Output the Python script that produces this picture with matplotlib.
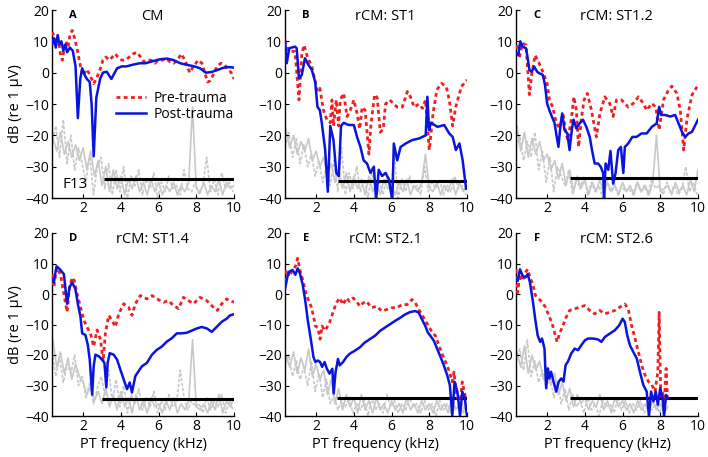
import numpy as np
import matplotlib
matplotlib.use("Agg")
from matplotlib import pyplot as plt
from matplotlib.lines import Line2D

plt.rcParams["font.family"] = ["Open Sans", "DejaVu Sans"]
plt.rcParams["axes.unicode_minus"] = True

RED = "#ee2020"
BLUE = "#0a14dc"
GRAY = "#c8c8c8"

# panel labels / titles
LETTERS = ["A", "B", "C", "D", "E", "F"]
TITLES = ["CM", "rCM: ST1", "rCM: ST1.2", "rCM: ST1.4", "rCM: ST2.1", "rCM: ST2.6"]

# pre-trauma (red dotted): (kHz, dB)
PRE_A_F = [0.36, 0.5, 0.7, 0.8, 0.9, 1.0, 1.1, 1.2, 1.3, 1.42, 1.55, 1.7, 1.86, 2.0, 2.15, 2.3, 2.45, 2.56, 2.7, 2.9, 3.05, 3.2, 3.4, 3.55, 3.7, 3.85, 4.05, 4.25, 4.45, 4.65, 4.85, 5.05, 5.2, 5.4, 5.6, 5.8, 6.0, 6.2, 6.4, 6.6, 6.8, 7.0, 7.2, 7.4, 7.65, 7.85, 8.1, 8.3, 8.45, 8.6, 8.75, 8.95, 9.1, 9.3, 9.5, 9.7, 9.85, 10.0]
PRE_A_DB = [13, 11, 10, 6, 4, 8, 10, 8, 12, 13.5, 11, 7, 2, -1, 1, 0, -2, -3.5, -2, 1, 4, 5, 4, 5, 6, 5, 4, 4, 5, 6, 6.5, 5, 3.5, 4, 4, 3, 4, 4, 4.5, 3.5, 3, 4, 6, 4, 0, 2, 4, 3, 0, -3, -2.5, 0, 2, 3, 2.5, 1, 0, -2]
PRE_B_F = [0.35, 0.52, 0.88, 1.09, 1.24, 1.36, 1.54, 1.77, 2.07, 2.2, 2.39, 2.57, 2.75, 2.84, 2.92, 3.07, 3.19, 3.28, 3.46, 3.64, 3.81, 4.0, 4.17, 4.31, 4.44, 4.6, 4.8, 4.9, 5.1, 5.24, 5.4, 5.56, 5.68, 5.9, 6.12, 6.3, 6.57, 6.84, 7.0, 7.2, 7.45, 7.64, 7.8, 8.0, 8.2, 8.4, 8.65, 8.9, 9.06, 9.24, 9.4, 9.7, 10.0]
PRE_B_DB = [10.4, 7, 6.7, -8.7, 6, 8.8, 5, 2, -6, -5, -12, -15, -16, -8.7, -17, -8.7, -17, -8.7, -6.6, -14, -12, -8.7, -13, -18, -11, -12, -26, -17, -7, -8, -19, -18, -10, -8.7, -10, -11, -11, -6, -7.7, -11, -10, -11.4, -8.7, -24.7, -13, -5.5, -3.4, -4.5, -8.7, -17, -11, -4.5, -2.3]
PRE_C_F = [0.4, 0.52, 0.7, 0.88, 1.06, 1.2, 1.36, 1.54, 1.77, 2.0, 2.12, 2.3, 2.48, 2.66, 2.84, 3.0, 3.1, 3.28, 3.42, 3.55, 3.67, 3.81, 3.96, 4.13, 4.35, 4.61, 4.8, 5.06, 5.32, 5.5, 5.68, 5.95, 6.12, 6.3, 6.57, 6.84, 7.1, 7.28, 7.55, 7.76, 7.94, 8.17, 8.44, 8.61, 8.88, 9.06, 9.24, 9.41, 9.68, 9.95]
PRE_C_DB = [8.8, 4.6, 9.4, 8.8, -7, 0, 5.6, 3.5, 0.3, -3.4, -8.7, -11, -16, -17.8, -13, -19.4, -21.5, -15, -7.7, -12, -23.7, -15, -8.7, -6.6, -12, -20.5, -13, -7.7, -9.8, -14, -8.7, -8.7, -9.8, -11, -9.8, -7.7, -9.8, -12, -9.8, -11, -18.3, -8.7, -5.5, -4.3, -6.6, -12, -24.7, -15, -7.1, -4.5]
PRE_D_F = [0.36, 0.45, 0.59, 0.8, 0.98, 1.15, 1.28, 1.42, 1.54, 1.68, 1.86, 2.04, 2.2, 2.39, 2.56, 2.74, 2.92, 3.06, 3.18, 3.36, 3.53, 3.71, 3.89, 4.15, 4.41, 4.59, 4.77, 5.03, 5.38, 5.65, 5.91, 6.26, 6.53, 6.79, 7.06, 7.32, 7.59, 7.85, 8.2, 8.56, 8.9, 9.12, 9.35, 9.61, 9.79, 10.0]
PRE_D_DB = [6.5, 2.2, 8.6, 6.5, 0, -5.9, 2.2, 5.4, 4.3, 0, -4.3, -8.6, -10.8, -12.9, -17.2, -11.8, -15, -22, -12.9, -7, -8.6, -10.8, -6.5, -3.2, -4.3, -7, -3.2, -0.5, -1.6, -0.5, -1.6, -2.7, -2.2, -3.8, -4.8, -1.1, -2.2, -3.2, -1.1, -2.2, -4.3, -5.4, -3.2, -1.6, -2.2, -2.7]
PRE_E_F = [0.36, 0.43, 0.57, 0.75, 0.9, 1.02, 1.14, 1.29, 1.43, 1.55, 1.73, 1.86, 1.96, 2.09, 2.21, 2.32, 2.45, 2.57, 2.71, 2.89, 3.07, 3.25, 3.43, 3.6, 3.78, 3.96, 4.14, 4.32, 4.5, 4.67, 4.94, 5.21, 5.48, 5.74, 6.01, 6.28, 6.55, 6.81, 7.08, 7.26, 7.44, 7.61, 7.79, 7.97, 8.15, 8.33, 8.51, 8.68, 8.86, 9.04, 9.22, 9.31, 9.45, 9.63, 9.75, 9.93]
PRE_E_DB = [4.1, 7.9, 5.7, 7.9, 9, 11.7, 7.9, 4.6, 0.9, -1.3, -4, -7.2, -10.5, -11, -14.8, -10.5, -12, -11, -9.4, -6.1, -2.9, -1.3, -3.5, -1.3, -2.4, -1.3, -2.4, -4, -2.9, -2.4, -4.5, -4, -5.6, -5.1, -4.5, -4.5, -3.5, -3.5, -1.8, -2.9, -5.1, -6.7, -8.8, -10.5, -12.6, -13.7, -16.9, -19.6, -22.3, -25, -28.8, -25.6, -33.1, -36.4, -28.8, -34.2]
PRE_F_F = [0.35, 0.44, 0.56, 0.7, 0.84, 0.97, 1.09, 1.24, 1.38, 1.56, 1.73, 1.91, 2.09, 2.27, 2.39, 2.53, 2.66, 2.84, 3.01, 3.19, 3.46, 3.72, 4.0, 4.26, 4.52, 4.79, 5.06, 5.32, 5.59, 5.86, 6.12, 6.3, 6.48, 6.66, 6.84, 7.01, 7.19, 7.37, 7.55, 7.72, 7.87, 7.94, 8.03, 8.13, 8.2, 8.31, 8.38]
PRE_F_DB = [8.1, 0.5, 6.5, 4.3, 7, 8.1, 5.4, 3.3, -0.5, -1.6, -2.7, -4.3, -7, -9.8, -12.5, -15.7, -13, -10.3, -7.6, -5.4, -4.9, -4.3, -3.8, -5.4, -6.5, -5.4, -6.5, -6, -5.4, -4.3, -3.3, -4.9, -10.3, -14.6, -19, -23.3, -26.6, -28.7, -29.8, -32, -25.5, -6, -34.2, -32, -36.9, -24.4, -34.2]

# post-trauma (blue solid)
POST_A_F = [0.36, 0.45, 0.55, 0.65, 0.75, 0.85, 0.95, 1.06, 1.15, 1.3, 1.45, 1.6, 1.72, 1.85, 1.95, 2.1, 2.2, 2.35, 2.45, 2.56, 2.7, 2.9, 3.05, 3.25, 3.5, 3.8, 4.05, 4.3, 4.6, 5.0, 5.3, 5.6, 5.9, 6.1, 6.45, 6.8, 7.15, 7.5, 7.9, 8.2, 8.5, 8.8, 9.1, 9.4, 9.7, 10.0]
POST_A_DB = [9, 11, 8, 12, 9, 10, 7, 9, 6.5, 8, 7, 2, -14.5, -2, 1.4, -1, -2, -3, -10, -26.7, -8, -2, 0, 0.3, -2, 1.4, 2, 2, 2.5, 3, 3, 3.5, 4, 4.3, 4.5, 4, 3, 2.5, 2, 1.4, 0, 0.2, 0.8, 1.5, 1.8, 1.6]
POST_B_F = [0.35, 0.44, 0.58, 0.88, 0.97, 1.09, 1.24, 1.41, 1.59, 1.77, 1.95, 2.07, 2.2, 2.3, 2.48, 2.62, 2.75, 2.92, 3.07, 3.2, 3.32, 3.46, 3.72, 4.0, 4.17, 4.35, 4.52, 4.7, 4.88, 5.06, 5.18, 5.32, 5.5, 5.68, 5.86, 6.04, 6.12, 6.3, 6.48, 6.75, 7.1, 7.46, 7.81, 7.9, 7.99, 8.08, 8.44, 8.79, 9.06, 9.24, 9.41, 9.6, 9.77, 9.95]
POST_B_DB = [10.4, 3, 7.8, 8.3, 7.8, -1.8, -0.7, 4.6, 2.5, 0.9, -2.9, -10.9, -12, -16, -24.7, -38, -17, -21.5, -32, -33, -17, -16, -16.7, -16.7, -20.5, -23.7, -28, -29, -32, -30, -40.7, -31, -33, -32, -34, -41, -22.6, -28, -23.7, -22.6, -21.5, -21, -20, -7.7, -18.3, -16, -17.3, -16.7, -19.4, -20.5, -24.7, -22.6, -28, -37]
POST_C_F = [0.4, 0.47, 0.58, 0.7, 0.88, 0.97, 1.06, 1.18, 1.32, 1.47, 1.59, 1.77, 1.89, 2.0, 2.12, 2.25, 2.39, 2.48, 2.6, 2.71, 2.8, 2.92, 3.07, 3.19, 3.32, 3.4, 3.55, 3.72, 3.9, 4.08, 4.26, 4.38, 4.52, 4.7, 4.84, 4.97, 5.02, 5.1, 5.24, 5.36, 5.5, 5.63, 5.77, 5.91, 6.04, 6.12, 6.3, 6.52, 6.75, 7.0, 7.28, 7.55, 7.81, 7.94, 8.04, 8.26, 8.52, 8.79, 8.97, 9.15, 9.32, 9.5, 9.68, 9.86, 10.0]
POST_C_DB = [6, 5.6, 10, 8.3, 7.8, 4.6, 0.9, 0.3, 1.9, 0.3, -0.2, -0.7, -4, -9.8, -12, -14, -16, -19.4, -23.7, -16.7, -13, -18.3, -19.4, -24.7, -17.8, -15, -17.8, -16.2, -15, -17.3, -20.5, -24.7, -29, -29, -30, -32, -40, -29, -31, -25, -35.4, -32, -24.7, -23.7, -32, -23.7, -22.6, -20.5, -20.5, -19.4, -19.4, -17.3, -16.2, -10.9, -13.5, -13.5, -14, -13.5, -16.2, -18.9, -20.5, -19.4, -18.9, -16.7, -15]
POST_D_F = [0.36, 0.45, 0.59, 0.77, 0.98, 1.15, 1.28, 1.42, 1.59, 1.72, 1.86, 1.95, 2.12, 2.25, 2.35, 2.48, 2.56, 2.65, 2.83, 3.0, 3.13, 3.23, 3.3, 3.41, 3.62, 3.8, 3.97, 4.15, 4.33, 4.47, 4.59, 4.77, 4.94, 5.12, 5.38, 5.65, 5.91, 6.18, 6.44, 6.7, 6.97, 7.23, 7.5, 7.76, 8.03, 8.29, 8.56, 8.82, 9.08, 9.35, 9.61, 9.79, 9.96]
POST_D_DB = [4.8, 3.8, 9.1, 8.1, 6.5, -3.2, 2.2, 3.8, 1.6, -3.2, -7.5, -12.9, -13.4, -16.7, -21.5, -33, -23.7, -19.9, -20.4, -21.5, -22.6, -30.6, -22.6, -19.4, -19.9, -21.5, -24.7, -28, -31.2, -29, -32.3, -26.9, -25.3, -23.7, -22.6, -19.9, -18.3, -17.2, -15.6, -14.5, -12.9, -12.9, -12.7, -12, -11.3, -10.8, -11.3, -12.4, -10.8, -9.1, -8.1, -7, -6.7]
POST_E_F = [0.36, 0.48, 0.57, 0.75, 0.9, 1.02, 1.14, 1.29, 1.43, 1.55, 1.73, 1.86, 1.96, 2.09, 2.21, 2.32, 2.45, 2.57, 2.71, 2.86, 2.93, 3.03, 3.16, 3.25, 3.43, 3.6, 3.78, 4.05, 4.32, 4.58, 4.85, 5.12, 5.39, 5.65, 5.92, 6.19, 6.46, 6.72, 6.99, 7.26, 7.44, 7.61, 7.79, 7.92, 8.06, 8.24, 8.42, 8.6, 8.77, 8.95, 9.09, 9.22, 9.34, 9.49, 9.63, 9.75, 9.88, 10.0]
POST_E_DB = [1.9, 5.7, 7.3, 7.9, 6.3, 8.4, 6.8, 3, -2.4, -8.3, -15.3, -20.7, -22.3, -21.8, -22.3, -23.9, -22.3, -24.5, -26.1, -24.5, -32.6, -25.6, -21.3, -23.4, -22.3, -20.7, -19.6, -18.6, -17.5, -15.9, -14.8, -13.7, -12.1, -11, -9.9, -8.8, -7.8, -6.7, -5.9, -5.6, -6.1, -8.3, -10.5, -12.6, -13.7, -15.3, -18, -20.7, -23.4, -26.6, -29.9, -40, -28.8, -32, -40, -32, -34.2, -40]
POST_F_F = [0.35, 0.44, 0.56, 0.7, 0.84, 0.97, 1.09, 1.24, 1.38, 1.5, 1.63, 1.73, 1.86, 1.95, 2.04, 2.12, 2.21, 2.34, 2.48, 2.62, 2.75, 2.87, 2.98, 3.1, 3.28, 3.46, 3.64, 3.81, 4.0, 4.17, 4.44, 4.7, 4.88, 5.06, 5.32, 5.59, 5.82, 6.0, 6.12, 6.25, 6.39, 6.57, 6.75, 6.92, 7.1, 7.28, 7.4, 7.51, 7.64, 7.76, 7.87, 8.0, 8.12, 8.2, 8.31, 8.38]
POST_F_DB = [4.9, 4.3, 8.1, 6, 5.4, 6.5, 3.8, -2.2, -8.7, -13.6, -15.7, -14.6, -17.9, -30.9, -24.4, -27.7, -25.5, -28.7, -32, -28.7, -27.7, -28.7, -23.3, -22.2, -19.5, -17.9, -18.4, -16.8, -15.2, -14.6, -14.6, -14.9, -15.7, -14.1, -13, -11.9, -10.3, -8.1, -9.2, -13.6, -16.8, -19, -21.1, -25.5, -29.8, -32, -40.1, -32, -35.2, -32, -36.3, -30.9, -34.2, -40.1, -33.1, -34.2]

# noise floors (gray): solid sampled every 0.2 kHz from 0.4, dashed offset by 0.1
NF_FREQ = np.round(np.arange(0.4, 10.01, 0.2), 1)
NF_FREQ_DASH = np.round(np.arange(0.35, 10.01, 0.2), 2)
NF_A_SOLID = [-21, -25, -19, -26, -22, -27, -23, -28, -24, -31, -25, -33, -28, -36, -30, -38, -31, -37, -33, -39, -34, -37, -33, -38, -35, -39, -34, -38, -35, -39, -36, -38, -35, -39, -36, -38, -35, -11, -37, -38, -35, -39, -36, -38, -34, -39, -35, -37, -36]
NF_A_DASH = [-23, -17, -27, -15, -29, -20, -31, -24, -29, -35, -26, -39, -30, -27, -37, -29, -39, -31, -38, -30, -40, -33, -36, -31, -39, -34, -37, -32, -40, -35, -38, -33, -37, -36, -39, -31, -37, -38, -35, -39, -36, -27, -38, -34, -39, -32, -37, -35, -38]
NF_B_SOLID = [-18, -24, -20, -26, -22, -25, -21, -28, -25, -30, -27, -33, -29, -35, -31, -37, -32, -38, -33, -37, -34, -39, -33, -38, -35, -39, -34, -37, -36, -39, -35, -38, -34, -39, -36, -38, -35, -26, -37, -38, -35, -39, -36, -38, -34, -39, -35, -38, -36]
NF_B_DASH = [-24, -19, -27, -21, -29, -23, -30, -26, -33, -28, -35, -30, -36, -28, -38, -24, -39, -32, -37, -30, -38, -34, -40, -32, -37, -35, -39, -33, -38, -26, -40, -34, -38, -33, -37, -36, -39, -30, -38, -35, -37, -34, -39, -36, -38, -33, -37, -36, -39]
NF_C_SOLID = [-17, -25, -19, -27, -21, -26, -22, -28, -26, -31, -28, -34, -29, -36, -31, -38, -33, -37, -34, -39, -35, -38, -34, -39, -35, -38, -36, -39, -35, -38, -36, -39, -35, -38, -36, -39, -35, -20, -38, -37, -36, -39, -35, -38, -36, -39, -34, -38, -31]
NF_C_DASH = [-24, -20, -28, -22, -27, -19, -31, -25, -35, -27, -38, -30, -33, -36, -31, -39, -34, -37, -33, -39, -35, -38, -36, -40, -34, -38, -35, -39, -36, -38, -37, -39, -35, -38, -36, -39, -34, -37, -36, -39, -35, -38, -36, -39, -37, -30, -38, -35, -39]
NF_D_SOLID = [-15, -24, -19, -26, -21, -28, -23, -27, -29, -33, -30, -35, -32, -36, -31, -37, -33, -38, -32, -37, -34, -39, -33, -38, -35, -39, -34, -37, -36, -39, -35, -38, -34, -39, -36, -38, -35, -15, -37, -38, -36, -39, -35, -38, -33, -39, -35, -37, -34]
NF_D_DASH = [-19, -27, -21, -29, -23, -26, -20, -30, -27, -34, -29, -36, -31, -27, -33, -25, -35, -28, -37, -30, -39, -33, -36, -31, -38, -34, -37, -32, -39, -35, -38, -33, -37, -36, -25, -34, -38, -35, -37, -36, -39, -34, -38, -35, -37, -33, -39, -35, -38]
NF_E_SOLID = [-20, -24, -19, -26, -21, -25, -18, -27, -23, -28, -25, -33, -28, -36, -31, -38, -33, -37, -34, -39, -33, -38, -35, -39, -34, -38, -36, -39, -35, -38, -36, -39, -34, -38, -36, -39, -35, -38, -36, -39, -35, -38, -36, -39, -34, -38, -36, -39, -35]
NF_E_DASH = [-24, -20, -27, -22, -28, -24, -30, -22, -32, -26, -34, -28, -36, -33, -38, -35, -37, -34, -39, -36, -38, -35, -40, -34, -38, -36, -39, -33, -37, -35, -39, -36, -38, -34, -37, -36, -39, -35, -38, -36, -40, -35, -38, -36, -39, -37, -38, -36, -39]
NF_F_SOLID = [-19, -24, -17, -26, -20, -25, -22, -28, -24, -30, -26, -33, -29, -35, -31, -37, -33, -36, -34, -38, -35, -37, -33, -38, -35, -39, -34, -37, -35, -38, -36, -39, -35, -38, -36, -39, -35, -38, -36, -39, -37]
NF_F_DASH = [-22, -18, -25, -15, -27, -22, -29, -25, -31, -27, -34, -29, -36, -31, -38, -33, -37, -35, -39, -34, -38, -36, -40, -35, -37, -36, -39, -34, -38, -35, -39, -36, -38, -35, -39, -37, -38, -36, -39, -36, -38]

# criterion line (black): start kHz, end kHz, level dB
CRIT_START = [3.13, 3.14, 3.19, 3.0, 3.1, 3.2]
CRIT_END = [10.0, 10.0, 10.0, 10.0, 10.0, 10.0]
CRIT_DB = [-33.8, -34.5, -33.6, -34.4, -34.2, -34.2]

PRE = [(PRE_A_F, PRE_A_DB), (PRE_B_F, PRE_B_DB), (PRE_C_F, PRE_C_DB),
       (PRE_D_F, PRE_D_DB), (PRE_E_F, PRE_E_DB), (PRE_F_F, PRE_F_DB)]
POST = [(POST_A_F, POST_A_DB), (POST_B_F, POST_B_DB), (POST_C_F, POST_C_DB),
        (POST_D_F, POST_D_DB), (POST_E_F, POST_E_DB), (POST_F_F, POST_F_DB)]
NOISE = [(NF_A_SOLID, NF_A_DASH), (NF_B_SOLID, NF_B_DASH), (NF_C_SOLID, NF_C_DASH),
         (NF_D_SOLID, NF_D_DASH), (NF_E_SOLID, NF_E_DASH), (NF_F_SOLID, NF_F_DASH)]

W, H = 708, 457
LEFTS = [52, 285, 516]
ROWS = [(10, 198), (233, 416)]  # top, bottom in px


def draw_panel(ax, i):
    solid, dash = NOISE[i]
    ax.plot(NF_FREQ[:len(solid)], solid, color=GRAY, lw=1.2, zorder=1)
    ax.plot(NF_FREQ_DASH[:len(dash)], dash, color=GRAY, lw=1.2, ls=(0, (2, 1)), zorder=1)
    ax.plot([CRIT_START[i], CRIT_END[i]], [CRIT_DB[i], CRIT_DB[i]],
            color="black", lw=2.2, zorder=2, solid_capstyle="butt")
    ax.plot(*PRE[i], color=RED, lw=2.0, ls=(0, (1.4, 1.2)), zorder=3)
    ax.plot(*POST[i], color=BLUE, lw=1.8, zorder=4)

    ax.set_xlim(0.35, 10)
    ax.set_ylim(-40, 20)
    ax.set_xticks([2, 4, 6, 8, 10])
    ax.set_yticks([-40, -30, -20, -10, 0, 10, 20])
    ax.tick_params(direction="in", length=3, labelsize=10, pad=2)
    for side in ("top", "right"):
        ax.spines[side].set_visible(False)
    for side in ("left", "bottom"):
        ax.spines[side].set_linewidth(1.0)

    ax.text(0.115, 0.972, LETTERS[i], transform=ax.transAxes, fontsize=8,
            fontweight="bold", ha="center", va="center")
    ax.text(0.55, 0.965, TITLES[i], transform=ax.transAxes, fontsize=10.5,
            ha="center", va="center")


fig = plt.figure(figsize=(W / 100, H / 100), dpi=100)
axes = []
for r, (top, bottom) in enumerate(ROWS):
    for c, left in enumerate(LEFTS):
        ax = fig.add_axes([left / W, 1 - bottom / H, 182 / W, (bottom - top) / H])
        draw_panel(ax, r * 3 + c)
        axes.append(ax)

for ax in (axes[0], axes[3]):
    ax.set_ylabel("dB (re 1 \u03bcV)", fontsize=10.5, labelpad=2)
for ax in axes[3:]:
    ax.set_xlabel("PT frequency (kHz)", fontsize=10.5, labelpad=2)

handles = [Line2D([], [], color=RED, lw=2.0, ls=(0, (1.4, 1.2))),
           Line2D([], [], color=BLUE, lw=1.8)]
axes[0].legend(handles, ["Pre-trauma", "Post-trauma"], loc="upper left",
               bbox_to_anchor=(0.32, 0.6), frameon=False, fontsize=10,
               handlelength=2.2, handletextpad=0.5, labelspacing=0.1,
               borderaxespad=0)
axes[0].text(0.06, 0.07, "F13", transform=axes[0].transAxes, fontsize=11,
             ha="left", va="center")

fig.savefig("out.png", dpi=100)
